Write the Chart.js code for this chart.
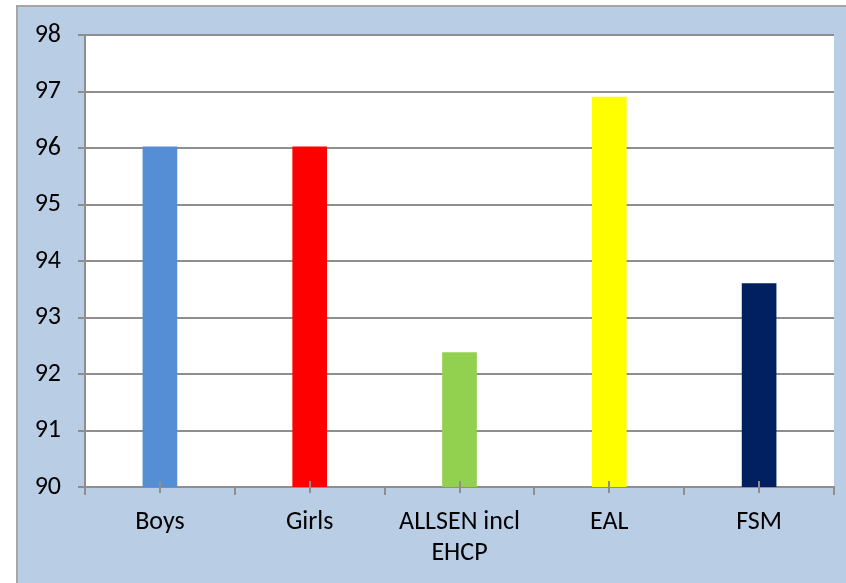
<!DOCTYPE html>
<html>
<head>
<meta charset="utf-8">
<script src="https://cdn.jsdelivr.net/npm/chart.js@4"></script>
<style>
  html, body { margin: 0; padding: 0; background: #fff; }
  #wrap { width: 846px; height: 583px; }
</style>
</head>
<body>
<div id="wrap"><canvas id="chart" width="846" height="583"></canvas></div>
<script>
const categories = ["Boys", "Girls", ["ALLSEN incl", "EHCP"], "EAL", "FSM"];
const values = [96.02, 96.02, 92.38, 96.9, 93.6];
const barColors = ["#558ed5", "#ff0000", "#92d050", "#ffff00", "#002060"];
const yTicks = [90, 91, 92, 93, 94, 95, 96, 97, 98];

const gridGrey = "#8e8e8e";
const labelFont = { family: "Carlito, Lato", size: 26, lineHeight: 1.2 };

// blue frame behind the plot
const frame = {
  id: "frame",
  beforeDraw(chart) {
    const ctx = chart.ctx;
    const a = chart.chartArea;
    ctx.save();
    ctx.fillStyle = "#b9cde5";
    ctx.fillRect(16, 5, chart.width - 16, chart.height - 5);
    ctx.strokeStyle = "#a6a6a6";
    ctx.lineWidth = 2;
    ctx.beginPath();
    ctx.moveTo(17, chart.height);
    ctx.lineTo(17, 6);
    ctx.lineTo(chart.width, 6);
    ctx.stroke();
    ctx.fillStyle = "#ffffff";
    ctx.fillRect(a.left, a.top, a.right - a.left, a.bottom - a.top);
    ctx.restore();
  },
  afterDraw(chart) {
    // small ticks at each category centre
    const ctx = chart.ctx;
    const x = chart.scales.x;
    const bottom = chart.chartArea.bottom;
    ctx.save();
    ctx.strokeStyle = gridGrey;
    ctx.lineWidth = 2;
    categories.forEach((c, i) => {
      const px = Math.round(x.getPixelForValue(i));
      ctx.beginPath();
      ctx.moveTo(px, bottom - 6);
      ctx.lineTo(px, bottom + 6);
      ctx.stroke();
    });
    ctx.restore();
  }
};

const ctx = document.getElementById("chart").getContext("2d");
new Chart(ctx, {
  type: "bar",
  data: {
    labels: categories,
    datasets: [{
      data: values,
      backgroundColor: barColors,
      barThickness: 34,
      borderWidth: 0
    }]
  },
  options: {
    responsive: false,
    animation: false,
    layout: { padding: { left: 0, top: 35, right: 12, bottom: 0 } },
    plugins: {
      legend: { display: false },
      tooltip: { enabled: false }
    },
    scales: {
      x: {
        offset: true,
        grid: {
          offset: true,
          drawOnChartArea: false,
          drawTicks: true,
          tickLength: 8,
          color: gridGrey,
          lineWidth: 2
        },
        border: { color: gridGrey, width: 2 },
        ticks: {
          color: "#000",
          padding: 12,
          maxRotation: 0,
          autoSkip: false,
          font: labelFont
        },
        afterFit(scale) { scale.height = 583 - 487; }
      },
      y: {
        min: 90,
        max: 98,
        afterBuildTicks(scale) { scale.ticks = yTicks.map(v => ({ value: v })); },
        grid: {
          color: gridGrey,
          lineWidth: 2,
          tickLength: 7
        },
        border: { color: gridGrey, width: 2 },
        ticks: {
          color: "#000",
          padding: 17,
          font: { family: "Carlito, Lato", size: 26 }
        },
        afterFit(scale) { scale.width = 85; }
      }
    }
  },
  plugins: [frame]
});
</script>
</body>
</html>
